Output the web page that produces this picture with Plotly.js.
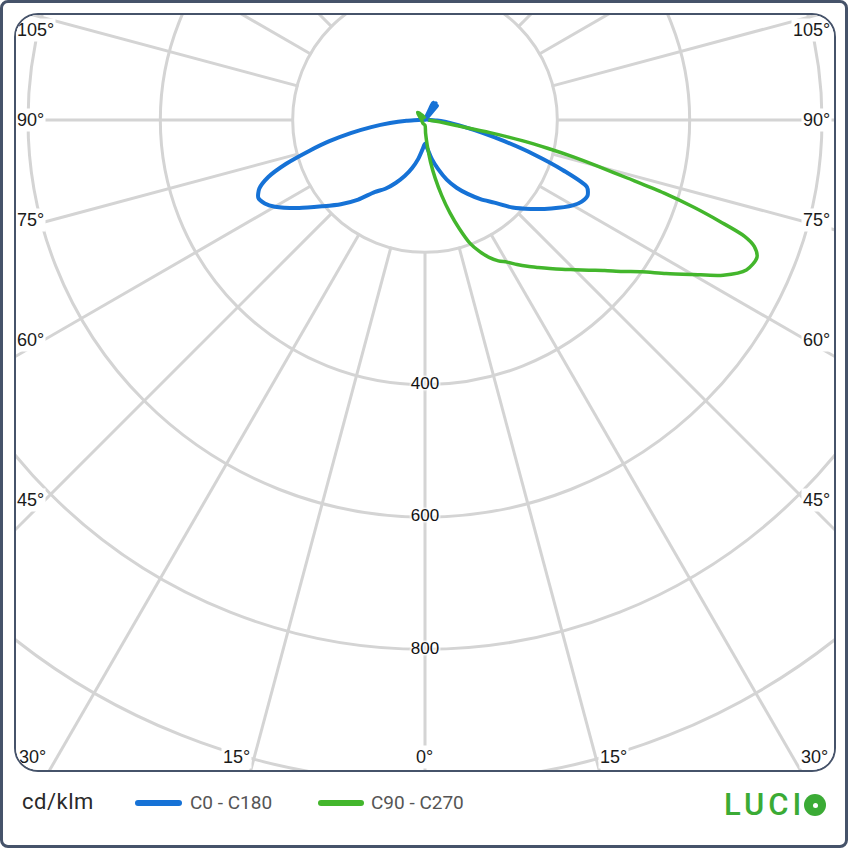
<!DOCTYPE html>
<html>
<head>
<meta charset="utf-8">
<script src="https://cdn.plot.ly/plotly-3.0.1.min.js"></script>
<style>
  html, body { margin:0; padding:0; background:#fff; width:848px; height:848px; overflow:hidden; }
  #pageBorder { position:absolute; left:0; top:0; width:848px; height:848px; box-sizing:border-box;
                border:3px solid #46536a; border-radius:8px; pointer-events:none; }
  #frame { position:absolute; left:14px; top:13px; width:822px; height:759px; box-sizing:border-box;
           border:2px solid #46536a; border-radius:24px; overflow:hidden; background:#fff; }
  #plot { position:absolute; left:-385px; top:-689px; width:1588px; height:1588px; }
  .leg { position:absolute; font-family:Roboto, "Noto Sans", sans-serif; white-space:nowrap; }
  #unit { left:22px; top:789px; font-size:22px; line-height:26px; color:#2a2a2a; letter-spacing:0.5px; }
  .sw { position:absolute; height:6px; border-radius:3px; top:800px; }
  .lt { font-size:19px; line-height:24px; top:791px; color:#555; }
  #logo { left:724px; top:787px; font-size:31px; line-height:36px; color:#3bab35; letter-spacing:4px; font-weight:500; }
  #logo .o { display:inline-block; width:22px; height:22px; border-radius:50%; background:#3bab35;
             color:transparent; font-size:10px; line-height:22px; overflow:hidden; position:relative;
             vertical-align:-1px; letter-spacing:0; text-align:center; margin-left:-1px; }
  #logo .o::after { content:""; position:absolute; left:8.5px; top:8.5px; width:5px; height:5px;
                    border-radius:50%; background:#fff; }
</style>
</head>
<body>
<div id="frame"><div id="plot"></div></div>
<div id="pageBorder"></div>
<div id="legend"></div>
<script>
// ---------- data (cd/klm vs gamma angle, degrees) ----------
const GAMMA_BLUE = [0,5,10,15,20,25,30,35,40,45,50,55,60,62.5,65,67.5,70,72.5,75,77.5,80,82.5,85,87.5,90,105,120,135,140,142.5,147.5,150,155,158,165,180];
const C0   = [36,44,60,77,96,113,129,146,163,187,209,233,258,267,271,265,222,172,125,88,60,42,30,18,8,3,2,3,28,8,30,8,29,6,3,0];
const C180 = [36,45,60,75,90,105,120,133,157,180,203,232,262,273,278,271,252,220,182,148,114,82,53,28,10,3,2,2,2,2,2,2,2,2,2,0];

const GAMMA_GREEN = [0,2.5,5,7.5,10,12.5,15,17.5,20,22.5,25,27.5,30,32.5,35,37.5,40,42.5,45,47.5,50,52.5,55,57.5,60,62.5,65,67.5,69,70,71,72,73,74,75,76,77,78,79,80,82.5,85,90];
const C90  = [8,20,38,64,90,117,145,172,198,215,229,240,248,259,270,281,293,306,320,336,354,376,400,432,467,508,536,543,533,514,472,428,378,318,271,232,190,150,100,48,22,12,5];
const GAMMA_C270 = [0,30,60,90,120,135,150,180];
const C270 = [8,6,5,5,9,16,8,2];

const SERIES_NAMES  = ['C0 - C180', 'C90 - C270'];
const SERIES_COLORS = ['#1672d6', '#43b62c'];
const RING_LABELS = [400, 600, 800];
const SIDE_ANGLES = [105, 90, 75, 60, 45];
const BOTTOM_ANGLES = [30, 15, 0, 15, 30];
const UNIT = 'cd/klm';

// ---------- helpers ----------
function plane(leftG, leftR, rightG, rightR) {
  const theta = [], r = [];
  for (let i = leftG.length - 1; i >= 1; i--) { theta.push(-leftG[i]); r.push(leftR[i]); }
  for (let i = 0; i < rightG.length; i++) { theta.push(rightG[i]); r.push(rightR[i]); }
  return { theta, r };
}
const RMAX = 1200, RGRID0 = 198;
const W = 1588, DIV_LEFT = -369, DIV_TOP = -674;       // page position of the plot div
const px = x => (x - DIV_LEFT) / W;
const py = y => 1 - (y - DIV_TOP) / W;

const blue = plane(GAMMA_BLUE, C180, GAMMA_BLUE, C0);
const green = plane(GAMMA_C270, C270, GAMMA_GREEN, C90);

const labelFont = { family: 'Liberation Sans, Arial, sans-serif', size: 18, color: '#1a1a1a' };
const annotations = [];
const sideY = [30, 120, 220, 340, 500];
SIDE_ANGLES.forEach((a, i) => {
  annotations.push({ xref:'paper', yref:'paper', x:px(15), y:py(sideY[i]), xanchor:'left', yanchor:'middle',
    text:a + '°', showarrow:false, font:labelFont, bgcolor:'#fff', borderpad:1 });
  annotations.push({ xref:'paper', yref:'paper', x:px(832), y:py(sideY[i]), xanchor:'right', yanchor:'middle',
    text:a + '°', showarrow:false, font:labelFont, bgcolor:'#fff', borderpad:1 });
});
const bottomX = [17, 236, 424, 613, 830];
const bottomAnchor = ['left', 'center', 'center', 'center', 'right'];
BOTTOM_ANGLES.forEach((a, i) => {
  annotations.push({ xref:'paper', yref:'paper', x:px(bottomX[i]), y:py(757), xanchor:bottomAnchor[i], yanchor:'middle',
    text:a + '°', showarrow:false, font:labelFont, bgcolor:'#fff', borderpad:1 });
});

const traces = [
  { type:'scatterpolar', subplot:'polar2', mode:'lines', name:SERIES_NAMES[0], theta:blue.theta, r:blue.r,
    line:{ color:SERIES_COLORS[0], width:4, shape:'spline', smoothing:0.7 }, hoverinfo:'skip' },
  { type:'scatterpolar', subplot:'polar2', mode:'lines', name:SERIES_NAMES[1], theta:green.theta, r:green.r,
    line:{ color:SERIES_COLORS[1], width:3.5, shape:'spline', smoothing:0.8 }, hoverinfo:'skip' },
  { type:'scatterpolar', subplot:'polar', mode:'text', r:RING_LABELS, theta:RING_LABELS.map(() => 0),
    text:RING_LABELS.map(String), textposition:'middle center', hoverinfo:'skip', cliponaxis:false,
    textfont:{ family:'Liberation Sans, Arial, sans-serif', size:17, color:'#111',
               shadow:'0 0 3px #fff, 0 0 3px #fff, 0 0 3px #fff, 0 0 3px #fff, 0 0 3px #fff' } }
];

const angular = { rotation:-90, direction:'counterclockwise' };
const layout = {
  width:W, height:W, margin:{ l:0, r:0, t:0, b:0 }, paper_bgcolor:'rgba(0,0,0,0)', showlegend:false,
  polar:{ domain:{ x:[0,1], y:[0,1] }, bgcolor:'#fff', hole:RGRID0 / RMAX,
    radialaxis:{ range:[RGRID0, RMAX], tickvals:[200,400,600,800,1000], showticklabels:false, ticks:'',
                 showline:false, gridcolor:'#d4d4d4', gridwidth:3 },
    angularaxis:Object.assign({ tickmode:'linear', tick0:0, dtick:15, showticklabels:false, ticks:'',
                 showline:false, gridcolor:'#d4d4d4', gridwidth:3 }, angular) },
  polar2:{ domain:{ x:[0,1], y:[0,1] }, bgcolor:'rgba(0,0,0,0)',
    radialaxis:{ range:[0, RMAX], visible:false },
    angularaxis:Object.assign({ visible:false }, angular) },
  annotations:annotations
};

Plotly.newPlot('plot', traces, layout, { staticPlot:true, displayModeBar:false });

// ---------- legend / footer ----------
const leg = document.getElementById('legend');
leg.innerHTML =
  '<div class="leg" id="unit">' + UNIT + '</div>' +
  '<div class="sw" style="left:135px;width:47px;background:' + SERIES_COLORS[0] + '"></div>' +
  '<div class="leg lt" style="left:190px">' + SERIES_NAMES[0] + '</div>' +
  '<div class="sw" style="left:318px;width:46px;background:' + SERIES_COLORS[1] + '"></div>' +
  '<div class="leg lt" style="left:371px">' + SERIES_NAMES[1] + '</div>' +
  '<div class="leg" id="logo">LUCI<span class="o">O</span></div>';
</script>
</body>
</html>
